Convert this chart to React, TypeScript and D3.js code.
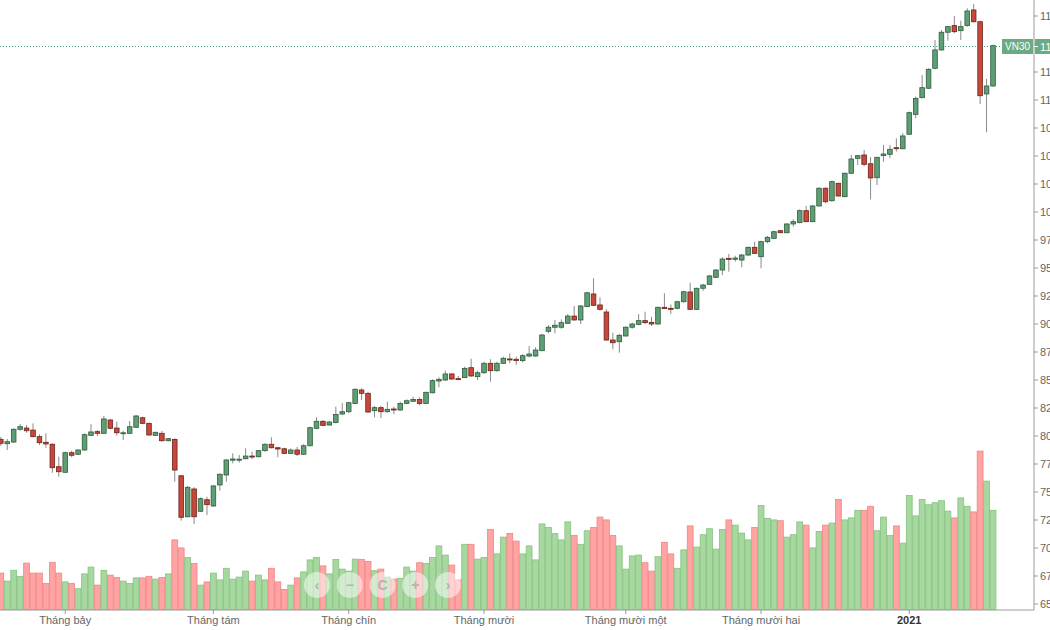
import React from "react";
import * as d3 from "d3";

const openP = [797.0,793.1,794.6,806.0,807.1,805.3,799.4,794.4,792.6,772.6,
767.6,785.1,783.7,787.5,800.6,803.9,802.4,814.3,807.1,802.5,
802.4,807.8,816.3,811.3,800.6,802.4,795.8,797.0,764.5,727.9,
752.7,732.8,743.1,737.5,756.3,765.2,778.4,778.6,779.7,782.1,
781.5,786.9,792.6,789.5,788.6,784.5,787.5,783.7,791.3,806.9,
813.1,809.8,812.0,819.6,821.7,829.1,841.1,838.1,822.6,825.3,
821.7,824.1,823.2,829.1,831.0,832.7,829.1,838.6,849.1,850.0,
855.4,851.2,852.1,861.0,853.0,856.5,864.9,858.3,864.9,868.8,
868.5,867.3,871.4,871.4,876.2,893.5,897.1,897.1,900.6,907.1,
903.6,915.5,926.8,917.0,910.7,885.7,884.2,889.3,897.1,899.7,
903.0,901.5,900.0,914.9,914.0,914.0,919.9,928.6,913.1,931.9,
935.4,941.7,948.2,958.6,957.8,957.1,961.6,968.5,960.1,973.5,
976.5,983.3,981.5,989.3,990.5,1001.2,991.4,1005.4,1021.2,1010.1,
1025.6,1013.7,1034.6,1047.9,1050.9,1043.1,1030.6,1050.3,1051.5,1057.4,
1056.5,1069.4,1087.2,1102.1,1110.5,1128.3,1144.7,1160.5,1166.4,1161.9,
1166.4,1180.4,1169.9,1105.4,1112.5];

const highP = [799.1,797.3,806.9,810.7,809.8,811.3,801.5,802.4,793.5,781.5,
786.0,786.9,788.1,802.4,810.7,805.3,817.9,815.2,812.8,804.7,
813.4,818.5,817.3,811.9,803.9,804.5,798.2,797.9,765.2,755.4,
754.2,745.2,745.8,756.3,766.7,779.5,784.5,783.0,789.0,786.0,
787.5,793.5,798.8,790.4,789.5,789.0,790.4,792.6,808.3,816.7,
814.3,813.4,826.2,829.5,830.6,842.6,842.6,839.6,826.8,826.8,
830.6,826.2,830.6,832.7,835.1,834.5,839.6,850.6,852.4,858.3,
856.0,853.6,861.9,869.0,858.3,866.3,868.5,866.3,870.8,873.8,
870.8,873.2,880.3,879.2,891.1,899.1,903.6,904.2,908.9,916.1,
917.0,928.8,940.8,923.8,913.1,892.2,891.1,898.2,901.2,908.9,
911.0,906.5,915.5,927.4,917.4,920.8,929.7,936.9,932.4,935.9,
943.8,949.1,959.5,962.5,961.0,962.5,969.0,973.5,974.4,978.6,
983.3,983.9,989.9,993.5,1002.4,1005.4,1006.3,1022.1,1022.1,1028.0,
1026.2,1035.1,1050.9,1050.9,1055.4,1049.1,1049.4,1059.8,1059.8,1065.8,
1070.3,1089.6,1103.0,1122.3,1128.3,1153.6,1162.5,1166.1,1175.0,1170.8,
1181.9,1185.7,1170.8,1118.8,1149.4];

const lowP = [791.1,787.5,794.0,804.7,802.9,798.8,792.0,789.5,767.2,763.7,
767.2,781.0,783.0,786.9,800.0,800.0,801.8,806.0,800.6,796.4,
801.8,807.1,810.7,800.3,800.0,794.9,795.2,759.2,724.4,727.4,
721.4,732.1,729.5,736.9,751.2,759.2,775.6,776.2,779.2,779.2,
781.0,786.0,789.0,781.0,783.9,783.9,782.1,783.0,790.8,806.0,
808.9,809.2,811.3,818.7,820.3,828.5,832.1,820.8,816.7,815.9,
820.8,819.4,822.6,828.5,830.4,827.4,828.5,838.1,843.5,849.1,
850.0,850.0,851.8,853.0,850.0,855.4,848.5,857.4,864.3,864.9,
863.4,865.9,870.3,870.8,875.6,891.7,891.7,895.8,900.0,903.0,
900.0,914.9,916.1,911.9,885.1,877.4,874.4,888.7,895.8,898.8,
900.0,898.2,899.4,913.4,908.9,913.1,919.0,912.5,912.5,929.6,
934.8,940.8,943.7,946.7,955.6,950.6,960.7,962.5,949.7,972.1,
975.9,981.0,981.0,986.9,989.9,990.8,990.8,1004.7,1007.8,1009.2,
1013.7,1013.1,1033.9,1041.9,1041.1,1011.3,1024.1,1044.9,1048.0,1053.9,
1056.0,1068.7,1083.7,1101.5,1109.8,1127.4,1144.0,1153.0,1159.6,1153.6,
1165.5,1169.0,1096.4,1071.2,1111.9];

const closeP = [793.5,794.9,806.0,808.3,804.7,799.4,794.0,792.9,771.7,768.1,
785.1,782.8,787.5,801.2,803.6,802.4,815.2,806.9,802.9,802.9,
808.3,817.9,811.3,800.9,803.3,795.8,797.6,769.6,727.4,754.2,
727.9,744.0,738.7,755.4,765.8,778.6,779.5,779.3,782.1,781.5,
786.9,792.6,789.5,788.4,784.5,787.5,783.7,791.3,807.4,813.1,
809.5,812.5,819.2,821.7,829.7,841.7,838.1,821.4,825.3,821.7,
823.8,823.2,829.1,831.5,832.7,829.1,839.0,849.4,850.6,855.4,
850.9,850.6,860.4,853.6,856.5,864.9,858.3,864.9,869.4,868.5,
867.3,871.7,873.2,876.8,890.2,897.1,898.9,901.2,907.1,903.6,
916.1,927.9,916.7,913.1,885.7,883.3,889.9,897.1,900.0,903.0,
901.2,900.0,914.9,913.7,913.4,919.9,928.8,913.1,931.9,934.8,
942.9,948.2,958.0,958.0,958.9,961.6,968.5,963.1,973.5,977.4,
982.4,981.5,989.3,991.4,1001.2,991.4,1005.4,1021.2,1009.2,1027.1,
1014.3,1034.6,1047.3,1050.3,1042.6,1030.4,1048.8,1051.8,1056.0,1056.9,
1067.9,1088.7,1101.5,1111.0,1127.4,1144.7,1160.5,1165.5,1161.0,1165.5,
1179.5,1169.9,1103.8,1112.5,1148.5];

const volume = [91,71,98,83,116,91,91,65,118,91,
69,65,52,89,106,61,98,86,80,71,
65,79,79,83,76,80,89,174,154,130,
115,61,69,91,74,103,76,81,96,71,
86,74,103,69,50,61,79,94,124,130,
109,89,125,101,96,126,125,120,97,101,
81,76,78,106,96,117,115,130,159,136,
111,74,163,163,126,130,200,139,181,190,
171,139,159,124,214,205,190,174,219,185,
163,197,205,231,224,185,159,101,134,136,
117,96,132,168,139,103,149,209,156,187,
202,151,200,224,211,191,174,205,260,228,
224,222,181,187,219,211,154,195,211,216,
275,224,229,248,248,258,197,231,185,209,
166,285,234,275,262,267,272,246,229,279,
258,244,396,321,248];

const monthTickIndex = [10, 33, 54, 75, 97, 118, 141];
const monthTickLabel = ["Tháng bảy", "Tháng tám", "Tháng chín", "Tháng mười", "Tháng mười một", "Tháng mười hai", "2021"];

const priceTicks = d3.range(650, 1176, 25);
const symbol = "VN30";
const navGlyphs = ["‹", "−", "C", "+", "›"];

const W = 1050, H = 630;
const plotRight = 1034;
const axisY = 610;

export default function App() {
  const n = closeP.length;
  const x = d3.scaleLinear().domain([0, n - 1]).range([0.8, 993]);
  const step = x(1) - x(0);
  const y = d3.scaleLinear().domain([650, 1175]).range([604, 16]);
  const yv = d3.scaleLinear().domain([0, 400]).range([609.5, 449.5]);
  const bodyW = 4.6;
  const barW = step - 0.6;
  const last = closeP[n - 1];
  const lastY = Math.round(y(last)) + 0.5;
  const font = "'Liberation Sans', Arial, sans-serif";

  const navX = d3.scaleLinear().domain([0, 4]).range([317, 448]);

  return (
    <svg width={W} height={H} style={{ position: "absolute", left: 0, top: 0, background: "#fff" }}>
      <defs>
        <clipPath id="plot"><rect x={0} y={0} width={plotRight} height={axisY} /></clipPath>
      </defs>
      <g clipPath="url(#plot)">
        {volume.map((v, i) => {
          const up = closeP[i] >= openP[i];
          return (
            <rect key={"v" + i} x={x(i) - barW / 2} y={yv(v)} width={barW} height={yv(0) - yv(v)}
              fill={up ? "#a6d8a0" : "#ffa3a3"} stroke={up ? "#86c27f" : "#f08585"} strokeWidth={0.8} />
          );
        })}
        {navGlyphs.map((g, i) => (
          <g key={"n" + i}>
            <circle cx={navX(i)} cy={585} r={13} fill="#ffffff" fillOpacity={0.5} />
            <text x={navX(i)} y={590} textAnchor="middle" fontSize={14} fill="#b4b4b4" fontFamily={font} fontWeight="bold">{g}</text>
          </g>
        ))}
        <line x1={0} x2={1002} y1={lastY} y2={lastY} stroke="#3f9e78" strokeWidth={1} strokeDasharray="1,2" />
        {closeP.map((c, i) => {
          const o = openP[i];
          const up = c >= o;
          const top = y(Math.max(o, c));
          const bot = y(Math.min(o, c));
          return (
            <g key={"c" + i}>
              <line x1={x(i)} x2={x(i)} y1={y(highP[i])} y2={y(lowP[i])} stroke="#8a8a8a" strokeWidth={1} />
              <rect x={x(i) - bodyW / 2} y={top} width={bodyW} height={Math.max(1, bot - top)}
                fill={up ? "#5e9f74" : "#c7473a"} stroke={up ? "#2f5c3d" : "#6e231a"} strokeWidth={0.8} />
            </g>
          );
        })}
      </g>
      {/* bottom axis */}
      <line x1={0} x2={plotRight} y1={axisY} y2={axisY} stroke="#9a9a9a" strokeWidth={1} />
      {monthTickIndex.map((t, i) => (
        <g key={"m" + i}>
          <line x1={x(t)} x2={x(t)} y1={axisY} y2={axisY + 4} stroke="#9a9a9a" />
          <text x={x(t)} y={624} textAnchor="middle" fontSize={11} fill={monthTickLabel[i] === "2021" ? "#333" : "#666"}
            fontWeight={monthTickLabel[i] === "2021" ? "bold" : "normal"} fontFamily={font}>{monthTickLabel[i]}</text>
        </g>
      ))}
      {/* right axis */}
      <line x1={plotRight} x2={plotRight} y1={0} y2={axisY} stroke="#9a9a9a" strokeWidth={1} />
      {priceTicks.map((p) => (
        <g key={"p" + p}>
          <line x1={plotRight} x2={plotRight + 4} y1={y(p)} y2={y(p)} stroke="#9a9a9a" />
          {Math.abs(y(p) - lastY) > 10 && (
            <text x={1040} y={y(p) + 4} fontSize={11} fill="#666" fontFamily={font}>{p.toFixed(2)}</text>
          )}
        </g>
      ))}
      {/* last price label */}
      <rect x={1002} y={lastY - 7.5} width={31} height={15} fill="#6aab84" />
      <text x={1017.5} y={lastY + 3.5} textAnchor="middle" fontSize={10} fill="#fff" fontFamily={font}>{symbol}</text>
      <rect x={1035} y={lastY - 7.5} width={15} height={15} fill="#6aab84" />
      <line x1={plotRight} x2={plotRight + 4} y1={lastY} y2={lastY} stroke="#fff" />
      <text x={1040} y={lastY + 4} fontSize={11} fill="#fff" fontFamily={font}>{last.toFixed(2)}</text>
    </svg>
  );
}
